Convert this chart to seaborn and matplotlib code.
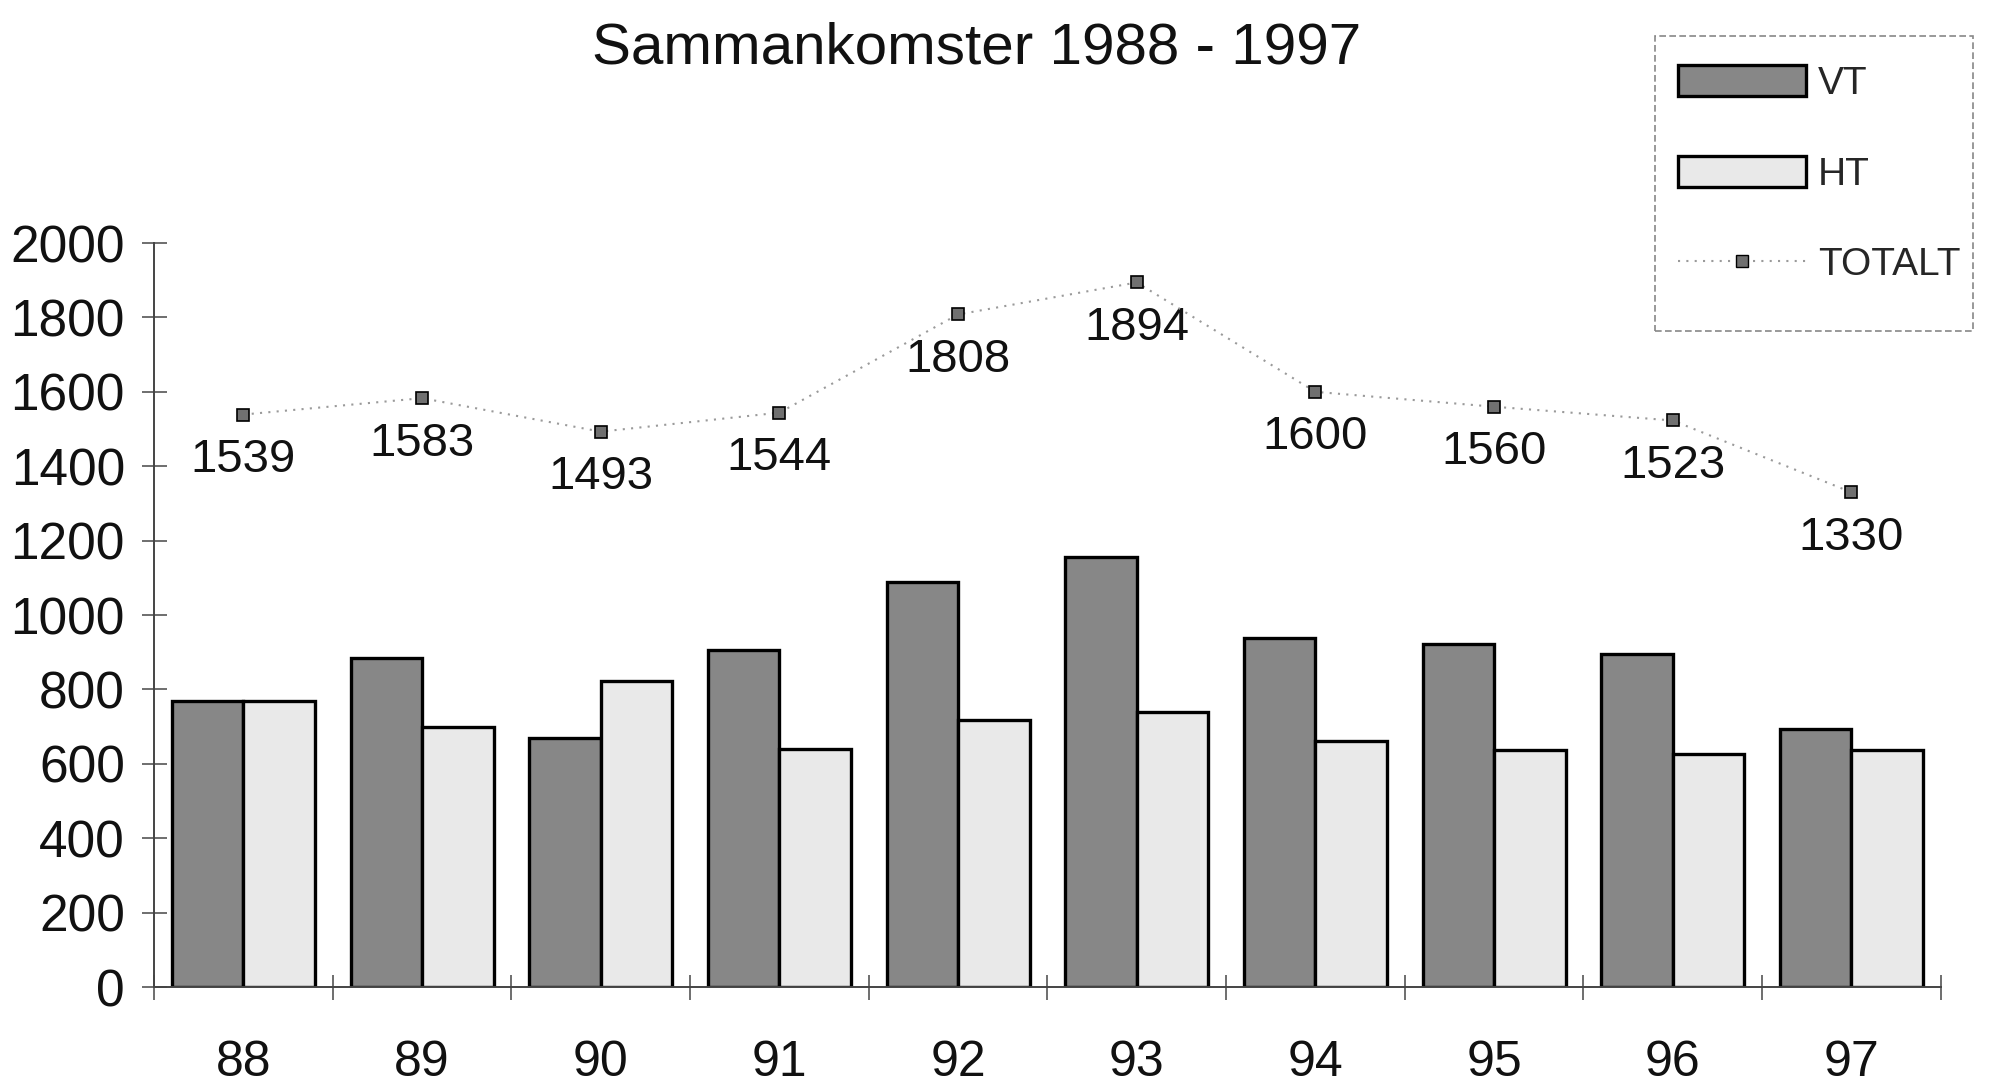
import numpy as np
import pandas as pd
import matplotlib
matplotlib.use("Agg")
import matplotlib.pyplot as plt
from matplotlib.patches import Patch, Rectangle
from matplotlib.lines import Line2D
import seaborn as sns

years = ["88", "89", "90", "91", "92", "93", "94", "95", "96", "97"]
vt = [770, 885, 670, 905, 1090, 1155, 938, 922, 896, 693]
ht = [769, 698, 823, 639, 718, 739, 662, 638, 627, 637]
totalt = [1539, 1583, 1493, 1544, 1808, 1894, 1600, 1560, 1523, 1330]
y_ticks = [0, 200, 400, 600, 800, 1000, 1200, 1400, 1600, 1800, 2000]

sns.set_theme(style="white")
plt.rcParams['font.family'] = ['Liberation Sans', 'DejaVu Sans']

df = pd.DataFrame({
    "year": years * 2,
    "value": vt + ht,
    "serie": ["VT"] * len(years) + ["HT"] * len(years),
})

fig = plt.figure(figsize=(20.09, 10.85), dpi=100)
ax = fig.add_axes([0.0767, 0.0903, 0.966 - 0.0767, 0.776 - 0.0903])

palette = {"VT": "#878787", "HT": "#e9e9e9"}
sns.barplot(data=df, x="year", y="value", hue="serie", palette=palette,
            width=0.8, edgecolor="black", linewidth=2.4, saturation=1,
            ax=ax, legend=False, errorbar=None)

x = np.arange(len(years))
ax.plot(x, totalt, linestyle=(0, (1, 3)), color="#9a9a9a", linewidth=1.5,
        marker="s", markersize=9, markerfacecolor="#707070",
        markeredgecolor="black", markeredgewidth=1.2, zorder=5)
for xi, t in zip(x, totalt):
    ax.annotate(str(t), (xi, t), xytext=(0, -17), textcoords="offset points",
                ha="center", va="top", fontsize=34, color="#111111")

ax.set_xlim(-0.5, len(years) - 0.5)
ax.set_ylim(0, 2000)
ax.set_yticks(y_ticks)
ax.set_yticklabels([str(v) for v in y_ticks], fontsize=37, color="#111111")
ax.set_xticks(x)
ax.set_xticklabels(years, fontsize=36, color="#111111")
ax.set_xticks(np.arange(len(years) + 1) - 0.5, minor=True)
ax.tick_params(axis="both", which="both", left=True, bottom=True)
ax.tick_params(axis="x", which="major", length=0, pad=38)
ax.tick_params(axis="x", which="minor", length=18, direction="inout", width=1.2, color="#555555")
ax.tick_params(axis="y", which="major", length=18, direction="inout", width=1.2, color="#555555", pad=12)
ax.set_xlabel("")
ax.set_ylabel("")
for s in ["top", "right"]:
    ax.spines[s].set_visible(False)
for s in ["left", "bottom"]:
    ax.spines[s].set_color("#444444")
    ax.spines[s].set_linewidth(1.4)

fig.text(0.486, 0.955, "Sammankomster 1988 - 1997", ha="center", va="center",
         fontsize=42, color="#111111")

# legend frame
frame = Rectangle((0.8238, 0.6949), 0.1583, 0.2719, transform=fig.transFigure,
                  fill=False, edgecolor="#888888", linewidth=1.2,
                  linestyle=(0, (4, 2)))
fig.patches.append(frame)

handles = [
    Patch(facecolor=palette["VT"], edgecolor="black", linewidth=2.4, label="VT"),
    Patch(facecolor=palette["HT"], edgecolor="black", linewidth=2.4, label="HT"),
    Line2D([0], [0], linestyle=(0, (1, 3)), color="#9a9a9a", linewidth=1.5,
           marker="s", markersize=9, markerfacecolor="#707070",
           markeredgecolor="black", label="TOTALT"),
]
leg = fig.legend(handles=handles, loc="upper left", bbox_to_anchor=(0.8353, 0.940),
                 fontsize=28, frameon=False,
                 handlelength=3.3, handleheight=0.85, labelspacing=1.38,
                 handletextpad=0.3, borderpad=0, borderaxespad=0)

fig.savefig("out.png", dpi=100, facecolor="white")
